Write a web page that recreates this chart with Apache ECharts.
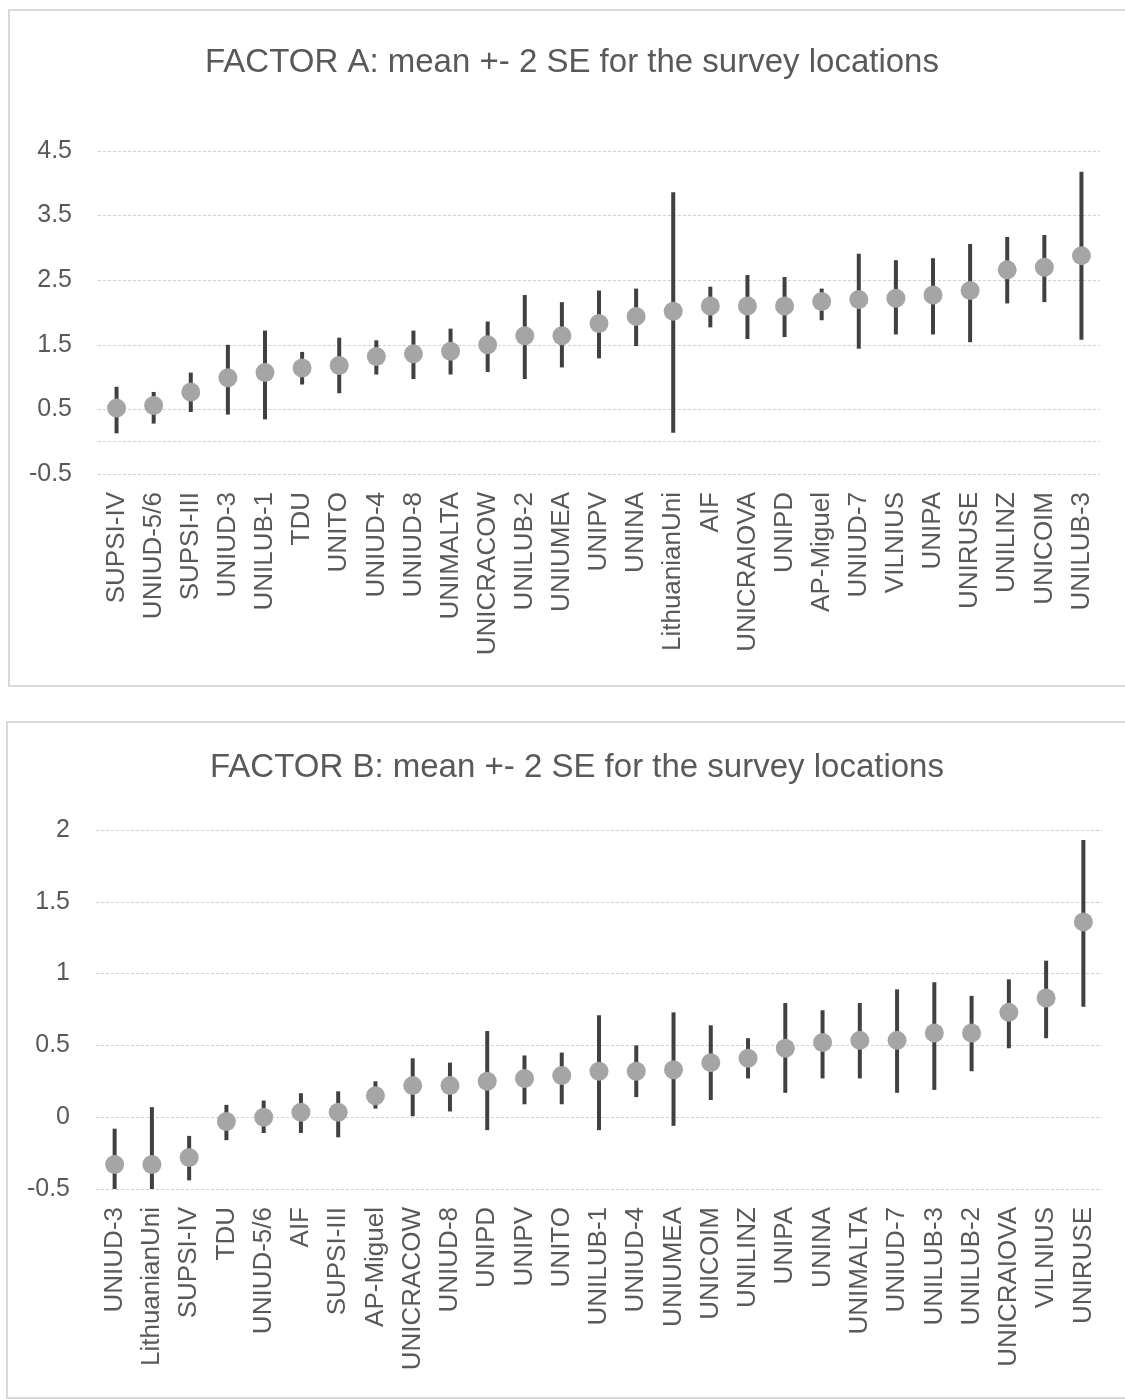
<!DOCTYPE html>
<html>
<head>
<meta charset="utf-8">
<script src="https://cdn.jsdelivr.net/npm/echarts@6/dist/echarts.min.js"></script>
<style>
html,body{margin:0;padding:0;background:#fff;}
#c{width:1125px;height:1399px;}
</style>
</head>
<body>
<div id="c"></div>
<script>
// ---------- FACTOR A ----------
var catsA = ['SUPSI-IV','UNIUD-5/6','SUPSI-III','UNIUD-3','UNILUB-1','TDU','UNITO','UNIUD-4','UNIUD-8','UNIMALTA','UNICRACOW','UNILUB-2','UNIUMEA','UNIPV','UNINA','LithuanianUni','AIF','UNICRAIOVA','UNIPD','AP-Miguel','UNIUD-7','VILNIUS','UNIPA','UNIRUSE','UNILINZ','UNICOIM','UNILUB-3'];
var meanA = [0.52,0.56,0.77,0.99,1.07,1.14,1.18,1.32,1.36,1.40,1.50,1.64,1.64,1.83,1.94,2.02,2.10,2.10,2.10,2.17,2.20,2.22,2.27,2.34,2.66,2.70,2.88];
var highA = [0.85,0.77,1.07,1.50,1.72,1.39,1.61,1.57,1.72,1.75,1.86,2.27,2.16,2.34,2.37,3.86,2.40,2.58,2.55,2.37,2.91,2.81,2.84,3.06,3.17,3.20,4.18];
var lowA  = [0.13,0.28,0.46,0.42,0.345,0.885,0.75,1.04,0.97,1.04,1.08,0.97,1.15,1.29,1.48,0.14,1.77,1.59,1.62,1.88,1.44,1.66,1.66,1.54,2.14,2.16,1.58];
var ticksA = {min:-0.5, max:4.5, step:1};

// ---------- FACTOR B ----------
var catsB = ['UNIUD-3','LithuanianUni','SUPSI-IV','TDU','UNIUD-5/6','AIF','SUPSI-III','AP-Miguel','UNICRACOW','UNIUD-8','UNIPD','UNIPV','UNITO','UNILUB-1','UNIUD-4','UNIUMEA','UNICOIM','UNILINZ','UNIPA','UNINA','UNIMALTA','UNIUD-7','UNILUB-3','UNILUB-2','UNICRAIOVA','VILNIUS','UNIRUSE'];
var meanB = [-0.33,-0.33,-0.28,-0.03,0.00,0.035,0.035,0.15,0.22,0.22,0.25,0.27,0.29,0.32,0.32,0.33,0.38,0.41,0.48,0.52,0.535,0.535,0.586,0.586,0.73,0.83,1.36];
var highB = [-0.08,0.07,-0.13,0.086,0.116,0.167,0.18,0.25,0.41,0.38,0.60,0.43,0.45,0.71,0.50,0.73,0.64,0.55,0.795,0.745,0.795,0.89,0.94,0.845,0.96,1.09,1.93];
var lowB  = [-0.5,-0.5,-0.44,-0.16,-0.11,-0.11,-0.14,0.06,0.007,0.04,-0.09,0.09,0.09,-0.09,0.14,-0.06,0.12,0.27,0.17,0.27,0.27,0.17,0.19,0.32,0.48,0.55,0.77];
var ticksB = {min:-0.5, max:2, step:0.5};

var titles = ['FACTOR A: mean +- 2 SE for the survey locations','FACTOR B: mean +- 2 SE for the survey locations'];

var TXT = '#595959';
var FONT = 'Liberation Sans';

function barData(low, high){
  return low.map(function(l,i){ return [i, l, high[i]]; });
}
function renderBar(params, api){
  var x = api.value(0);
  var a = api.coord([x, api.value(1)]);
  var b = api.coord([x, api.value(2)]);
  return {
    type:'line',
    shape:{x1:a[0], y1:a[1], x2:b[0], y2:b[1]},
    style:{stroke:'#404040', lineWidth:4}
  };
}
function fmt(v){ return (Math.round(v*10)/10).toString(); }

var option = {
  backgroundColor:'#fff',
  animation:false,
  title:[
    {text:titles[0], left:200, top:41, textStyle:{fontFamily:FONT, fontSize:33, fontWeight:'normal', color:TXT}},
    {text:titles[1], left:205, top:746, textStyle:{fontFamily:FONT, fontSize:33, fontWeight:'normal', color:TXT}}
  ],
  graphic:[
    {type:'rect', shape:{x:9, y:10, width:1125, height:676}, style:{fill:'none', stroke:'#d9d9d9', lineWidth:2}, silent:true, z:-1},
    {type:'rect', shape:{x:7, y:722, width:1125, height:676}, style:{fill:'none', stroke:'#d9d9d9', lineWidth:2}, silent:true, z:-1}
  ],
  grid:[
    {left:98, right:25, top:151, height:323},
    {left:96, right:23, top:830, height:359}
  ],
  xAxis:[0,1].map(function(k){
    return {
      type:'category', gridIndex:k, data:k===0?catsA:catsB,
      axisLine:{show:false, onZero:false}, axisTick:{show:false},
      axisLabel:{rotate:90, interval:0, margin:18, fontFamily:FONT, fontSize:26, color:TXT},
      splitLine:{show:false}
    };
  }),
  yAxis:[ticksA, ticksB].map(function(t,k){
    return {
      type:'value', gridIndex:k, min:t.min, max:t.max, interval:t.step,
      axisLine:{show:false}, axisTick:{show:false},
      axisLabel:{margin:26, fontFamily:FONT, fontSize:25, color:TXT, formatter:fmt},
      splitLine:{show:true, lineStyle:{color:'#d0d0d0', width:1, type:[3,2]}}
    };
  }),
  series:[
    {type:'custom', xAxisIndex:0, yAxisIndex:0, data:barData(lowA, highA), renderItem:renderBar, z:2,
     encode:{x:0, y:[1,2]}, silent:true},
    {type:'scatter', xAxisIndex:0, yAxisIndex:0, data:meanA, symbol:'circle', symbolSize:19,
     itemStyle:{color:'#a5a5a5', opacity:1}, z:3, silent:true,
     markLine:{silent:true, symbol:'none', label:{show:false},
       lineStyle:{color:'#d0d0d0', width:1, type:[3,2]}, data:[{yAxis:0}]}},
    {type:'custom', xAxisIndex:1, yAxisIndex:1, data:barData(lowB, highB), renderItem:renderBar, z:2,
     encode:{x:0, y:[1,2]}, silent:true},
    {type:'scatter', xAxisIndex:1, yAxisIndex:1, data:meanB, symbol:'circle', symbolSize:19,
     itemStyle:{color:'#a5a5a5', opacity:1}, z:3, silent:true}
  ]
};

var chart = echarts.init(document.getElementById('c'), null, {renderer:'canvas'});
chart.setOption(option);
</script>
</body>
</html>
